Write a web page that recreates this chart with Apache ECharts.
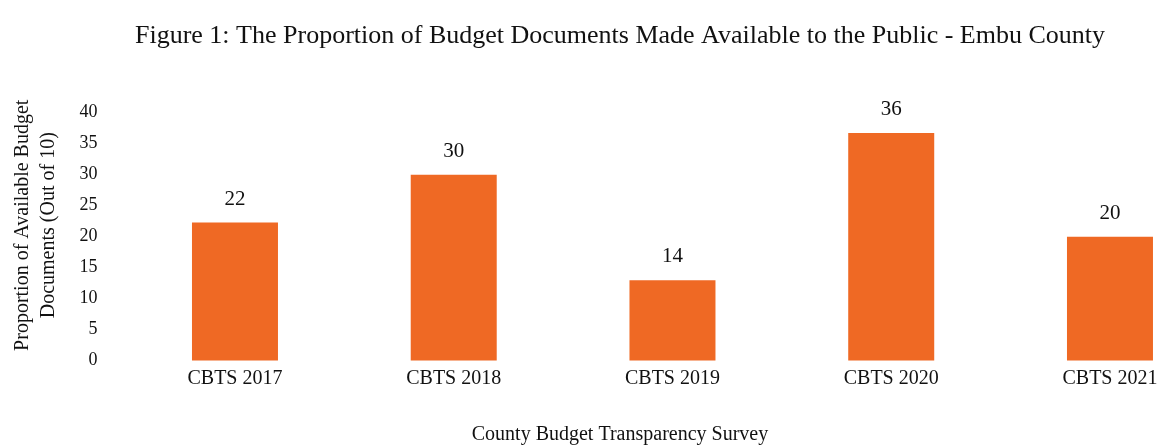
<!DOCTYPE html>
<html>
<head>
<meta charset="utf-8">
<script src="https://cdn.jsdelivr.net/npm/echarts@6/dist/echarts.min.js"></script>
<style>html,body{margin:0;padding:0;background:#fff;}#c{width:1158px;height:445px;}</style>
</head>
<body>
<div id="c"></div>
<script>
const titleText = 'Figure 1: The Proportion of Budget Documents Made Available to the Public - Embu County';
const categories = ['CBTS 2017', 'CBTS 2018', 'CBTS 2019', 'CBTS 2020', 'CBTS 2021'];
const barValues = [22.2, 29.9, 12.9, 36.6, 19.9];
const valueLabels = ['22', '30', '14', '36', '20'];
const yTicks = [0, 5, 10, 15, 20, 25, 30, 35, 40];
const xAxisName = 'County Budget Transparency Survey';
const yAxisName = 'Proportion of Available Budget\nDocuments (Out of 10)';

const FONT = '"Liberation Serif", "DejaVu Serif", serif';
const chart = echarts.init(document.getElementById('c'), null, {renderer: 'canvas'});
chart.setOption({
  backgroundColor: '#fff',
  animation: false,
  title: {
    text: titleText,
    left: 615, top: 18, textAlign: 'center',
    textStyle: {fontFamily: FONT, fontSize: 26, fontWeight: 'normal', color: '#111'}
  },
  grid: {left: 125.6, top: 112, width: 1093.75, height: 248.5, outerBoundsMode: 'none', containLabel: false},
  xAxis: {
    type: 'category',
    data: categories,
    axisLine: {show: false},
    axisTick: {show: false},
    axisLabel: {fontFamily: FONT, fontSize: 20, color: '#111', margin: 8},
    name: xAxisName,
    nameLocation: 'middle',
    nameGap: 64,
    nameTextStyle: {fontFamily: FONT, fontSize: 20, color: '#111', padding: [0, 105, 0, 0]}
  },
  yAxis: {
    type: 'value',
    min: yTicks[0], max: yTicks[yTicks.length - 1], interval: 5,
    splitLine: {show: false},
    axisLine: {show: false},
    axisTick: {show: false},
    axisLabel: {fontFamily: FONT, fontSize: 18, color: '#111', margin: 28},
    name: yAxisName,
    nameLocation: 'middle',
    nameGap: 64,
    nameRotate: 90,
    nameTextStyle: {fontFamily: FONT, fontSize: 20, color: '#111', lineHeight: 26, padding: [0, 0, 0, 22]}
  },
  series: [{
    type: 'bar',
    data: barValues,
    barWidth: 86,
    itemStyle: {color: '#EF6924'},
    label: {
      show: true, position: 'top', distance: 13,
      fontFamily: FONT, fontSize: 21, color: '#111',
      formatter: p => valueLabels[p.dataIndex]
    }
  }]
});
</script>
</body>
</html>
